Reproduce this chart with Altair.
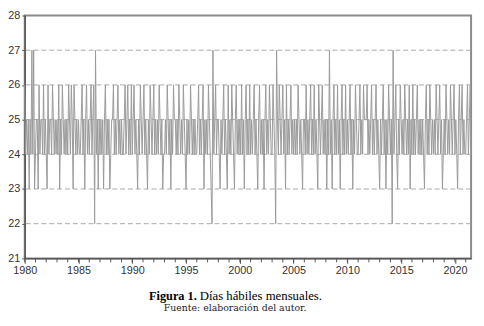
import altair as alt
import pandas as pd

inicio = 1980

dias_1980s = [
    26, 24, 25, 24, 25, 23, 25, 24, 27, 24, 27, 23,
    24, 25, 25, 23, 26, 24, 25, 25, 24, 26, 24, 25,
    24, 23, 26, 24, 25, 25, 24, 26, 25, 24, 25, 24,
    25, 24, 26, 23, 25, 24, 26, 25, 24, 25, 24, 25,
    24, 26, 25, 24, 26, 25, 23, 26, 25, 24, 25, 24,
    25, 24, 24, 25, 26, 24, 25, 23, 25, 26, 24, 25,
    24, 25, 26, 24, 25, 26, 22, 27, 24, 25, 23, 25,
    24, 25, 24, 25, 23, 25, 26, 24, 25, 24, 25, 23,
    24, 25, 25, 26, 24, 25, 24, 25, 26, 24, 25, 24,
    25, 24, 24, 25, 26, 24, 25, 26, 24, 25, 24, 26,
]
dias_1990s = [
    24, 25, 26, 24, 25, 24, 23, 25, 24, 26, 25, 24,
    25, 26, 24, 25, 24, 23, 25, 24, 26, 25, 24, 25,
    26, 24, 25, 24, 25, 24, 26, 25, 24, 25, 23, 24,
    24, 25, 24, 26, 25, 24, 25, 23, 25, 24, 26, 25,
    25, 24, 25, 24, 26, 25, 24, 25, 24, 26, 25, 24,
    23, 25, 24, 25, 24, 26, 25, 24, 25, 24, 25, 24,
    24, 25, 26, 24, 25, 24, 25, 26, 23, 25, 24, 25,
    24, 26, 25, 24, 23, 22, 27, 24, 25, 26, 24, 25,
    25, 24, 23, 25, 24, 25, 26, 24, 25, 24, 23, 26,
    24, 25, 24, 26, 25, 24, 23, 25, 26, 24, 25, 24,
]
dias_2000s = [
    25, 24, 26, 24, 25, 23, 25, 26, 24, 25, 24, 26,
    24, 25, 24, 25, 26, 24, 25, 24, 23, 25, 26, 24,
    25, 24, 25, 23, 25, 26, 24, 25, 24, 26, 25, 24,
    24, 26, 25, 24, 22, 27, 25, 24, 26, 25, 24, 25,
    26, 24, 25, 23, 26, 24, 25, 24, 25, 26, 24, 25,
    24, 25, 24, 25, 24, 26, 25, 24, 25, 24, 23, 25,
    25, 24, 26, 24, 25, 24, 25, 26, 24, 25, 24, 26,
    24, 25, 24, 23, 26, 25, 24, 25, 26, 24, 25, 24,
    25, 23, 25, 24, 27, 24, 25, 23, 25, 26, 24, 25,
    24, 26, 24, 25, 23, 25, 26, 24, 25, 24, 26, 24,
]
dias_2010s = [
    25, 24, 25, 26, 24, 25, 23, 25, 24, 26, 25, 24,
    24, 25, 26, 24, 25, 24, 26, 25, 25, 25, 26, 24,
    25, 24, 25, 26, 24, 25, 24, 25, 26, 24, 25, 24,
    23, 25, 24, 25, 26, 24, 25, 23, 25, 24, 26, 25,
    24, 25, 22, 27, 24, 25, 26, 24, 23, 25, 24, 26,
    25, 24, 25, 24, 26, 25, 24, 25, 24, 26, 23, 25,
    24, 26, 24, 25, 24, 25, 26, 24, 25, 24, 25, 24,
    25, 24, 23, 25, 26, 24, 25, 24, 26, 25, 24, 25,
    24, 25, 24, 26, 25, 24, 25, 26, 24, 25, 23, 24,
    25, 24, 26, 25, 24, 25, 24, 26, 25, 24, 25, 26,
]
dias_2020s = [
    24, 25, 24, 23, 25, 26, 24, 25, 26, 24, 25, 24,
    24, 25, 26, 24, 25, 26, 24,
]

y_ticks = [21, 22, 23, 24, 25, 26, 27, 28]
grid_values = [22, 23, 24, 25, 26, 27]
x_ticks = [1980, 1985, 1990, 1995, 2000, 2005, 2010, 2015, 2020]
minor_years = list(range(1980, 2022))

titulo_bold = "Figura 1."
titulo_resto = "Días hábiles mensuales."
fuente = "Fuente: elaboración del autor."

valores = dias_1980s + dias_1990s + dias_2000s + dias_2010s + dias_2020s
df = pd.DataFrame({"t": [inicio + i / 12 for i in range(len(valores))], "dias": valores})

W, H = 454, 247
xscale = alt.Scale(domain=[1980, 2021.5], nice=False, zero=False)
yscale = alt.Scale(domain=[21, 28], nice=False, zero=False)

xaxis = alt.Axis(values=x_ticks, format="d", grid=False, tickSize=5,
                 tickColor="#555", domainColor="#555", domainWidth=1.5,
                 labelFont="Liberation Sans", labelFontSize=11,
                 labelColor="#333", labelPadding=1, labelFlush=False, title=None)
yaxis = alt.Axis(values=y_ticks, format="d", grid=False, tickSize=3,
                 tickColor="#555", domainColor="#555", domainWidth=1.5,
                 labelFont="Liberation Sans", labelFontSize=11,
                 labelColor="#333", labelPadding=2, title=None)

grid = alt.Chart(pd.DataFrame({"g": grid_values})).mark_rule(
    color="#a8a8a8", strokeDash=[5, 3], strokeWidth=1
).encode(y=alt.Y("g:Q", scale=yscale, axis=yaxis))

line = alt.Chart(df).mark_line(color="#9a9a9a", strokeWidth=1).encode(
    x=alt.X("t:Q", scale=xscale, axis=xaxis),
    y=alt.Y("dias:Q", scale=yscale, axis=yaxis),
)

minor = alt.Chart(pd.DataFrame({"yr": minor_years})).mark_rule(
    color="#555", strokeWidth=1
).encode(
    x=alt.X("yr:Q", scale=xscale, axis=xaxis),
    y=alt.value(H), y2=alt.value(H + 4),
)

cap1 = alt.Chart(pd.DataFrame({"s": [titulo_bold]})).mark_text(
    font="Liberation Serif", fontSize=12.5, fontWeight="bold", align="right",
    baseline="middle", color="#000"
).encode(text="s:N", x=alt.value(175), y=alt.value(285))

cap2 = alt.Chart(pd.DataFrame({"s": [titulo_resto]})).mark_text(
    font="Liberation Serif", fontSize=13, align="left",
    baseline="middle", color="#000"
).encode(text="s:N", x=alt.value(178), y=alt.value(285))

cap3 = alt.Chart(pd.DataFrame({"s": [fuente]})).mark_text(
    font="DejaVu Serif", fontSize=9.5, align="center",
    baseline="middle", color="#222"
).encode(text="s:N", x=alt.value(214), y=alt.value(298))

chart = alt.layer(grid, line, minor, cap1, cap2, cap3).properties(
    width=W, height=H,
    background="white",
    autosize=alt.AutoSizeParams(type="none"),
    padding={"left": 17, "top": 5, "right": 5, "bottom": 58},
).configure_view(stroke="#8a8a8a", strokeWidth=2)

chart.save("out.html", embed_options={"renderer": "svg", "actions": False})
